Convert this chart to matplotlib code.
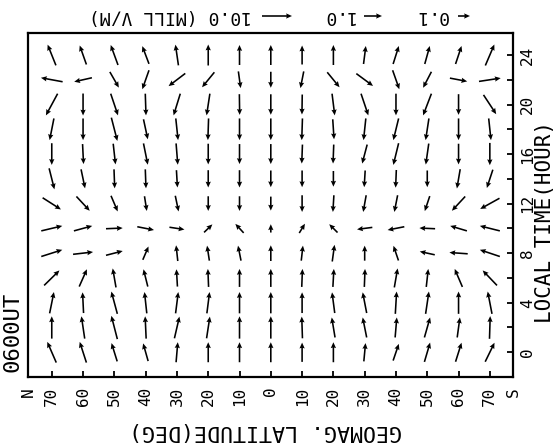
import numpy as np
import matplotlib
matplotlib.use("Agg")
import matplotlib.pyplot as plt
from matplotlib.transforms import blended_transform_factory

# ---------------- data ----------------
lat = [70, 60, 50, 40, 30, 20, 10, 0, -10, -20, -30, -40, -50, -60, -70]
lat_labels = ["70", "60", "50", "40", "30", "20", "10", "0",
              "10", "20", "30", "40", "50", "60", "70"]
local_time = [0, 2, 4, 6, 8, 10, 12, 14, 16, 18, 20, 22, 24]
lt_ticks = [0, 2, 4, 6, 8, 10, 12, 14, 16, 18, 20, 22, 24]
lt_labels = ["0", "", "4", "", "8", "", "12", "", "16", "", "20", "", "24"]

# arrow components (plotted length units; u -> toward S, v -> toward later LT)
u_0h = [-9, -6.7, -5.7, -5, 1.7, 0, 0, 0, 0, 0, 1.7, 5.7, 5.7, 6, 9.3]
v_0h = [20.7, 20.7, 18.3, 17.7, 20, 20, 20, 20, 19.3, 20, 18.3, 16.7, 19.3, 19, 19]
u_2h = [0, -3.3, -6, -1, 5, 3.3, 0, 0, -0.7, -3.3, -4, 1.7, 5.7, 2.7, 0.7]
v_2h = [22.3, 22.3, 23.3, 22.3, 21.7, 21.7, 22.3, 22.3, 21.7, 20, 20, 20, 20, 20, 22.7]
u_4h = [4.3, -1, -6, -2.3, 2.7, 2.7, 0, 0, 0, -2.7, -4, 1.3, 3.3, 0, -4.3]
v_4h = [21.3, 20.7, 22.3, 21.3, 21.3, 21.3, 21.3, 21.3, 20.7, 20.7, 20.7, 22.3, 22.3, 22.3, 22.3]
u_6h = [15.3, 7.7, -3.3, -4.3, -1, -0.7, 0, 0, 0.7, 1, 0.7, 3.3, 2, -7.7, -14.3]
v_6h = [15, 17.3, 19, 17.3, 17.3, 18, 18, 18, 18, 18, 18, 19, 18, 18, 15]
u_8h = [21, 20, 16.7, 5.7, -1.7, -2.3, -3, 0, 1.7, 2.3, 0, -5, -15, -18.3, -20]
v_8h = [6.7, 2.3, 4.3, 13.3, 15.7, 15, 15, 15.7, 15, 16.7, 15, 14.7, 3.3, 1.3, 6.7]
u_10h = [21, 18.3, 16.7, 16.7, 15, 8.3, -8.3, 0, 5.7, -8.3, -15.3, -16.7, -15.7, -16.7, -20]
v_10h = [5, 5, 0.7, -3.3, -2.3, 8, 9, 8.3, 9.3, 8.3, -2, -3.3, 0.7, 5, 5]
u_12h = [18.3, 13.3, 6.7, 2.3, 3.3, 0, 0, 0, 0, -1, -3, -3.3, -5, -13.3, -19.3]
v_12h = [-11.7, -14.3, -15.7, -14.7, -15.7, -14.7, -14.7, -14, -16.7, -16.7, -16.7, -16.7, -15, -14.3, -10.7]
u_14h = [5.3, 4, 0.7, 0.7, 1, 0, 0, 0, 0, 0, -1, -0.7, 0, -3.3, -6]
v_14h = [-21, -19, -19, -19, -17.3, -17.3, -17.3, -16.7, -16.7, -15.7, -16.7, -17.7, -16.7, -19.3, -18.3]
u_16h = [0, 1, 2.3, 4.3, 1.7, 0, 0, 0, -0.7, -0.7, -5, -5.3, -3, 0, 0]
v_16h = [-21.7, -20, -20.7, -21.3, -21.3, -20.7, -20, -20, -19, -19, -19, -21.7, -21, -20.7, -22.3]
u_18h = [-4.3, 0, 6, 4.3, 2.3, -0.7, 0, 0, -0.7, 1.3, -2.3, -5.3, -3.3, 0, 2.3]
v_18h = [-21.7, -21.7, -23.3, -20, -21.7, -21.7, -21.7, -21.7, -21.7, -20, -21.7, -21.7, -21.7, -21.7, -21.7]
u_20h = [-11.7, 0, 7.3, 0.7, -6.7, -3.3, 0.3, 0, -0.3, 2.7, 7.3, 0, -8.3, 0, 12.7]
v_20h = [-21.7, -22, -21.7, -21.7, -21.7, -21.7, -20.7, -20.5, -20, -21.7, -21.7, -21.7, -21.7, -20.7, -19.3]
u_22h = [-21.7, -17.7, 9, -6.7, -16.7, -12.3, 2.3, 0, -3.3, 12.3, 16.7, 6.7, -8.3, 17.3, 21.7]
v_22h = [4, -4, -15.7, -19, -12.7, -15, -16.7, -16, -16.7, -15, -12.3, -19, -16, -3.3, 3.3]
u_24h = [-8.3, -6.7, -7.3, -6.7, -3, 0, 0, 0, 0, 0, 2.3, 5.7, 5, 6, 9]
v_24h = [20.7, 19, 20, 17.7, 20.7, 21, 20, 20, 19, 20, 18, 18, 18, 18, 21]

U = np.array([u_0h, u_2h, u_4h, u_6h, u_8h, u_10h, u_12h, u_14h, u_16h,
              u_18h, u_20h, u_22h, u_24h])
V = np.array([v_0h, v_2h, v_4h, v_6h, v_8h, v_10h, v_12h, v_14h, v_16h,
              v_18h, v_20h, v_22h, v_24h])

# reference arrows (legend)
key_values = [30, 18, 12]
key_labels = ["10.0 (MILL V/M)", "1.0", "0.1"]

ut_label = "0600UT"

# ---------------- plot ----------------
plt.rcParams["font.family"] = ["DejaVu Sans Mono"]
W, H = 558, 444
fig = plt.figure(figsize=(W / 100, H / 100), dpi=100)
ax = fig.add_axes([28.3 / W, 1 - 377 / H, (513 - 28.3) / W, (377 - 32.7) / H])

X, Y = np.meshgrid(lat, local_time)
Q = ax.quiver(X, Y, U, V, pivot="middle", angles="uv",
              scale_units="inches", scale=100, units="dots",
              width=1.6, headwidth=3.3, headlength=3.7, headaxislength=3.3,
              color="black")

ax.set_xlim(77.5, -77.4)
ax.set_ylim(-2.0, 25.8)

for s in ax.spines.values():
    s.set_linewidth(1.6)

ax.set_xticks(lat)
ax.set_xticklabels(lat_labels, rotation=90, fontsize=11.5)
ax.yaxis.tick_right()
ax.set_yticks(lt_ticks)
ax.set_yticklabels(lt_labels, rotation=90, va="center", fontsize=11.5)
ax.tick_params(axis="x", direction="in", length=4, width=1.3, pad=7)
ax.tick_params(axis="y", direction="in", length=4, width=1.3, pad=5,
               right=True, left=False)

tr = blended_transform_factory(ax.transData, ax.transAxes)
ax.text(77.5, -0.029, "N", transform=tr, rotation=90, ha="center", va="top",
        fontsize=11.5)
ax.text(-77.4, -0.029, "S", transform=tr, rotation=90, ha="center", va="top",
        fontsize=11.5)

ax.set_xlabel("GEOMAG. LATITUDE(DEG)", rotation=180, fontsize=15.5)
ax.xaxis.label.set_va("center")
ax.xaxis.set_label_coords((266 - 28.3) / (513 - 28.3), (377 - 431) / (377 - 32.7))

ax.yaxis.set_label_position("right")
ax.set_ylabel("LOCAL TIME(HOUR)", rotation=90, fontsize=15)
ax.yaxis.label.set_va("center")
ax.yaxis.label.set_ha("center")
ax.yaxis.label.set_rotation_mode("default")
ax.yaxis.set_label_coords((545 - 28.3) / (513 - 28.3), (377 - 222) / (377 - 32.7))

fig.text(12 / W, 1 - 372 / H, ut_label, rotation=90, ha="center", va="bottom",
         fontsize=16)

key_x = [262, 364, 458]
for kx, kv, kl in zip(key_x, key_values, key_labels):
    qk = ax.quiverkey(Q, kx / W, 1 - 16 / H, kv, kl, coordinates="figure",
                      labelpos="W", labelsep=0.1,
                      fontproperties={"size": 13, "family": "DejaVu Sans Mono"})
    qk.text.set_rotation(180)

fig.savefig("out.png", dpi=100)
